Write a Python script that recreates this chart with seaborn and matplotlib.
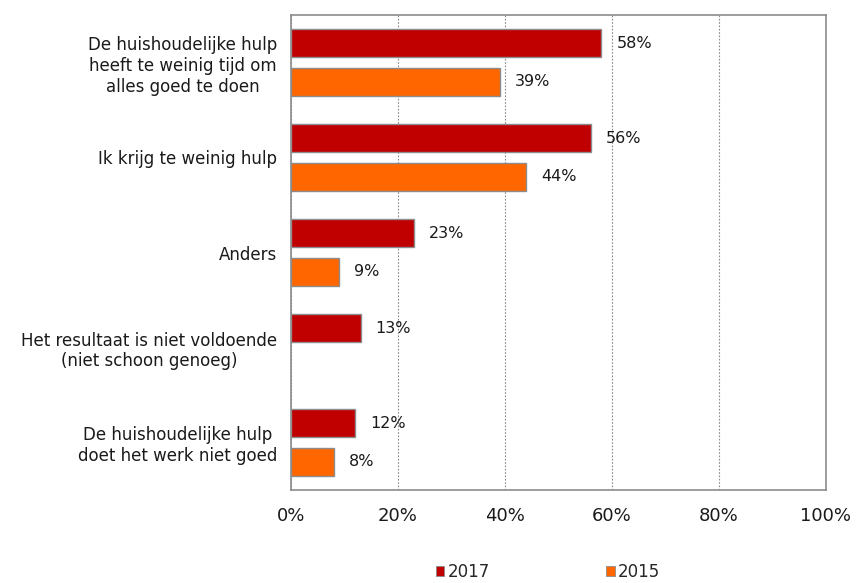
import numpy as np
import pandas as pd
import matplotlib
matplotlib.use("Agg")
import matplotlib.pyplot as plt
import seaborn as sns
from matplotlib.patches import Patch
from matplotlib.transforms import offset_copy

categories = [
    "De huishoudelijke hulp\nheeft te weinig tijd om\nalles goed te doen",
    "Ik krijg te weinig hulp",
    "Anders",
    "Het resultaat is niet voldoende\n(niet schoon genoeg)",
    "De huishoudelijke hulp\ndoet het werk niet goed",
]
values_2017 = [58, 56, 23, 13, 12]
values_2015 = [39, 44, 9, np.nan, 8]
series = ["2017", "2015"]
colors = ["#C00000", "#FF6600"]
xticks = [0, 20, 40, 60, 80, 100]

df = pd.DataFrame({
    "categorie": categories * 2,
    "jaar": ["2017"] * len(categories) + ["2015"] * len(categories),
    "waarde": values_2017 + values_2015,
})

sns.set_style("white")
plt.rcParams["font.family"] = ["DejaVu Sans"]

fig = plt.figure(figsize=(8.57, 5.83), dpi=100)
ax = fig.add_axes([291 / 857, 1 - 490 / 583, (826 - 291) / 857, (490 - 15) / 583])

sns.barplot(data=df, y="categorie", x="waarde", hue="jaar", hue_order=series,
            palette=colors, orient="h", width=0.82, gap=0.26,
            edgecolor="#8c8c8c", linewidth=1.0, saturation=1, ax=ax, legend=False,
            err_kws={"linewidth": 0})

trans = offset_copy(ax.transData, fig=fig, x=15, y=0, units="dots")
for cont in ax.containers:
    for bar in cont:
        if bar is None:
            continue
        w = bar.get_width()
        if not np.isfinite(w):
            continue
        yc = bar.get_y() + bar.get_height() / 2
        ax.text(w, yc, f"{int(round(w))}%", transform=trans, ha="left", va="center",
                fontsize=11.5, color="#1a1a1a")

ax.set_xlim(0, 100)
ax.set_xticks(xticks)
ax.set_xticklabels([f"{t}%" for t in xticks], fontsize=13, color="#1a1a1a")
ax.tick_params(axis="x", length=0, pad=12.5)
ax.tick_params(axis="y", length=0, pad=10, labelsize=12, labelcolor="#1a1a1a")
for t in ax.get_yticklabels():
    t.set_multialignment("center")
ax.set_xlabel("")
ax.set_ylabel("")
ax.xaxis.grid(True, color="#8a8a8a", linestyle=(0, (1.5, 1.5)), linewidth=0.8)
ax.set_axisbelow(True)
for s in ax.spines.values():
    s.set_visible(True)
    s.set_color("#8c8c8c")
    s.set_linewidth(1.2)

handles = [Patch(facecolor=c, edgecolor="#8c8c8c", linewidth=0.6, label=l) for c, l in zip(colors, series)]
fig.legend(handles=handles, loc="center", bbox_to_anchor=(548 / 857, 1 - 572 / 583), ncol=2,
           frameon=False, fontsize=12, handlelength=0.5, handleheight=0.5,
           handletextpad=0.2, columnspacing=7.0, borderpad=0.2)

fig.savefig("out.png", dpi=100)
